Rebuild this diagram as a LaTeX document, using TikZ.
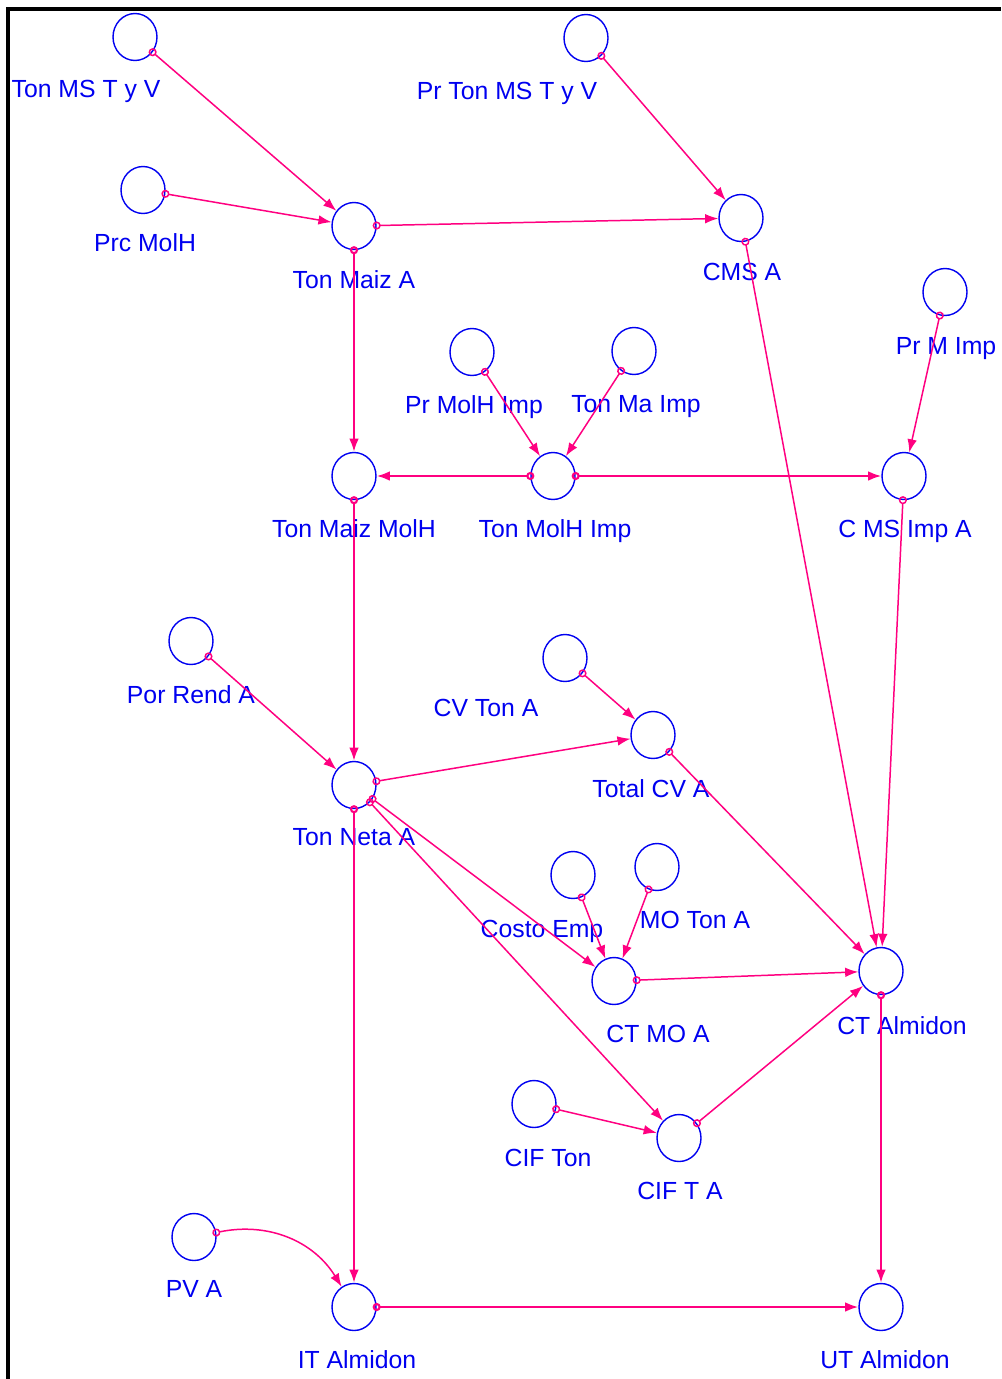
\documentclass[tikz,border=0pt]{standalone}
\usepackage{fontspec}
\setmainfont{Liberation Sans}
\usepackage{xcolor}
\usepackage{tikz}
\usetikzlibrary{arrows.meta, shapes.geometric}

\definecolor{linkpink}{RGB}{255,0,128}
\definecolor{varblue}{RGB}{0,0,240}
\newcommand{\labfont}{\fontsize{14.1pt}{17pt}\selectfont}

\tikzset{
  var/.style={draw=varblue, ellipse, line width=0.8pt, minimum width=0.88cm, minimum height=0.94cm, inner sep=0pt},
  lab/.style={text=varblue, font=\labfont, inner sep=0pt, anchor=base},
  link/.style={draw=linkpink, line width=0.85pt, {Circle[open,length=4.6pt,width=4.6pt]}-{Latex[length=7.5pt,width=5.5pt]}, shorten <=-2.3pt},
  mainlink/.style={link, line width=1.2pt}
}

\begin{document}
\begin{tikzpicture}[x=0.02cm, y=-0.02cm]
  \useasboundingbox (0,0) rectangle (1001,1379);
  % frame
  \draw[line width=2.3pt] (8,1379) -- (8,9) -- (1001,9);

  % variables
  \node[var] (tmstv)  at (135,37)   {};
  \node[var] (prtms)  at (586,38)   {};
  \node[var] (prcm)   at (143,190)  {};
  \node[var] (tma)    at (354,226)  {};
  \node[var] (cmsa)   at (741,218)  {};
  \node[var] (prmi)   at (945,292)  {};
  \node[var] (prmhi)  at (472,352)  {};
  \node[var] (tmai)   at (634,351)  {};
  \node[var] (tmmh)   at (354,476)  {};
  \node[var] (tmhi)   at (553,476)  {};
  \node[var] (cmsia)  at (904,476)  {};
  \node[var] (prend)  at (191,641)  {};
  \node[var] (cvton)  at (565,658)  {};
  \node[var] (tcva)   at (653,735)  {};
  \node[var] (tneta)  at (354,785)  {};
  \node[var] (cemp)   at (573,875)  {};
  \node[var] (moton)  at (657,867)  {};
  \node[var] (ctmoa)  at (614,981)  {};
  \node[var] (ctalm)  at (881,971)  {};
  \node[var] (cifton) at (534,1104) {};
  \node[var] (cifta)  at (679,1138) {};
  \node[var] (pva)    at (194,1237) {};
  \node[var] (italm)  at (354,1307) {};
  \node[var] (utalm)  at (881,1307) {};

  % names
  \node[lab] (tmstv-l)  at (86,97)    {Ton MS T y V};
  \node[lab] (prtms-l)  at (507,99)   {Pr Ton MS T y V};
  \node[lab] (prcm-l)   at (145,251)  {Prc MolH};
  \node[lab] (tma-l)    at (354,288)  {Ton Maiz A};
  \node[lab] (cmsa-l)   at (742,280)  {CMS A};
  \node[lab] (prmi-l)   at (946,354)  {Pr M Imp};
  \node[lab] (prmhi-l)  at (474,413)  {Pr MolH Imp};
  \node[lab] (tmai-l)   at (636,412)  {Ton Ma Imp};
  \node[lab] (tmmh-l)   at (354,537)  {Ton Maiz MolH};
  \node[lab] (tmhi-l)   at (555,537)  {Ton MolH Imp};
  \node[lab] (cmsia-l)  at (905,537)  {C MS Imp A};
  \node[lab] (prend-l)  at (191,703)  {Por Rend A};
  \node[lab] (cvton-l)  at (486,716)  {CV Ton A};
  \node[lab] (tcva-l)   at (651,797)  {Total CV A};
  \node[lab] (tneta-l)  at (354,845)  {Ton Neta A};
  \node[lab] (cemp-l)   at (542,937)  {Costo Emp};
  \node[lab] (moton-l)  at (695,928)  {MO Ton A};
  \node[lab] (ctmoa-l)  at (658,1042) {CT MO A};
  \node[lab] (ctalm-l)  at (902,1034) {CT Almidon};
  \node[lab] (cifton-l) at (548,1166) {CIF Ton};
  \node[lab] (cifta-l)  at (680,1199) {CIF T A};
  \node[lab] (pva-l)    at (194,1297) {PV A};
  \node[lab] (italm-l)  at (357,1368) {IT Almidon};
  \node[lab] (utalm-l)  at (885,1368) {UT Almidon};

  % links
  \draw[link] (tmstv) -- (tma);
  \draw[link] (prcm) -- (tma);
  \draw[link] (tma) -- (cmsa);
  \draw[link] (prtms) -- (cmsa);
  \draw[mainlink] (tma) -- (tmmh);
  \draw[link] (prmhi) -- (tmhi);
  \draw[link] (tmai) -- (tmhi);
  \draw[mainlink] (tmhi) -- (tmmh);
  \draw[mainlink] (tmhi) -- (cmsia);
  \draw[link] (prmi) -- (cmsia);
  \draw[link] (cmsa) -- (ctalm);
  \draw[link] (cmsia) -- (ctalm);
  \draw[mainlink] (tmmh) -- (tneta);
  \draw[link] (prend) -- (tneta);
  \draw[link] (cvton) -- (tcva);
  \draw[link] (tneta) -- (tcva);
  \draw[link] (tcva) -- (ctalm);
  \draw[link] (tneta) -- (ctmoa);
  \draw[link] (tneta) -- (cifta);
  \draw[link] (cemp) -- (ctmoa);
  \draw[link] (moton) -- (ctmoa);
  \draw[link] (ctmoa) -- (ctalm);
  \draw[link] (cifton) -- (cifta);
  \draw[link] (cifta) -- (ctalm);
  \draw[mainlink] (tneta) -- (italm);
  \draw[link] (pva) to[bend left=35] (italm);
  \draw[mainlink] (italm) -- (utalm);
  \draw[mainlink] (ctalm) -- (utalm);
\end{tikzpicture}
\end{document}
